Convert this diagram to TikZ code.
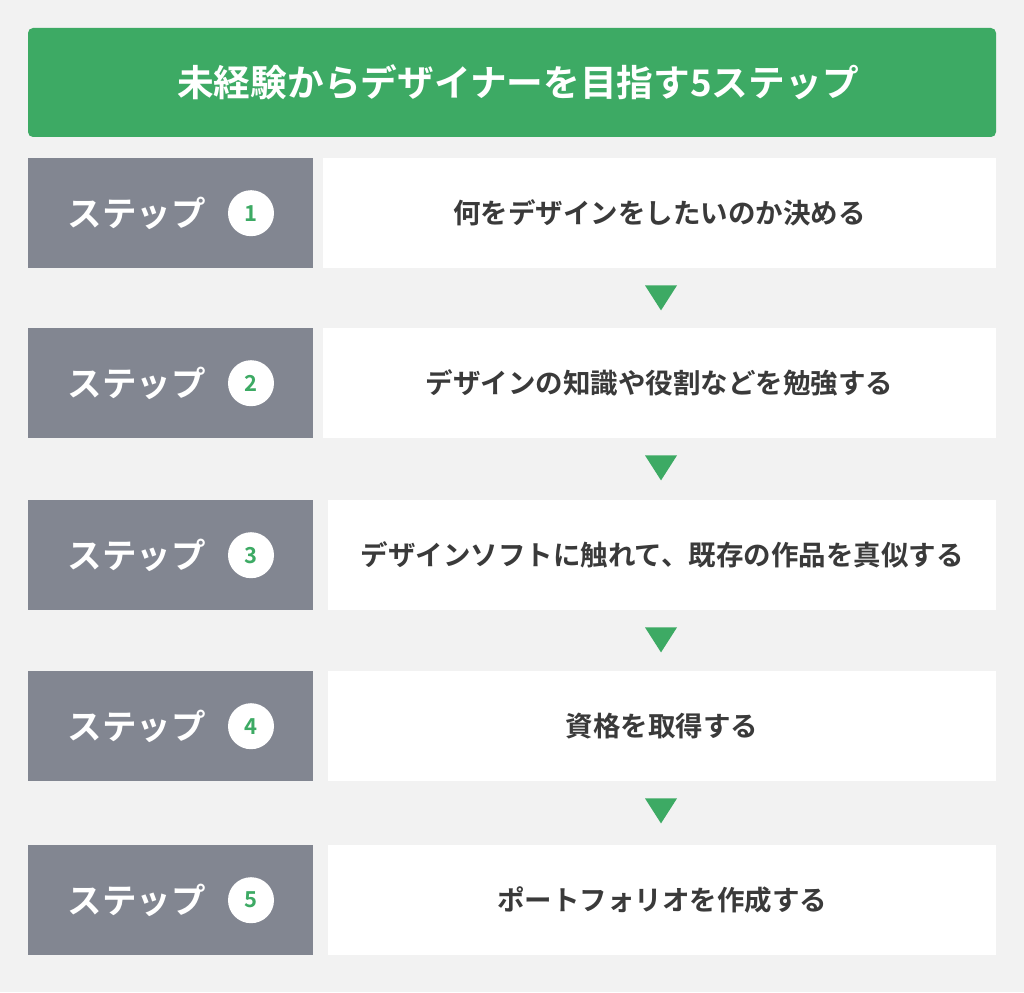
\documentclass[tikz,border=0pt]{standalone}
\usepackage{fontspec}
\setmainfont{Noto Sans CJK JP}[BoldFont={Noto Sans CJK JP Bold}]
\usetikzlibrary{calc}
\definecolor{bgc}{HTML}{F2F2F2}
\definecolor{greenc}{HTML}{3DAA64}
\definecolor{grayc}{HTML}{828691}
\definecolor{textc}{HTML}{3A3A3A}
\begin{document}
\begin{tikzpicture}[x=1pt,y=-1pt,
  titlebox/.style={fill=greenc, rounded corners=5pt, minimum width=968pt, minimum height=109pt, inner sep=0pt},
  titletext/.style={text=white, inner sep=0pt, font=\bfseries\fontsize{36.7}{40}\selectfont},
  graybox/.style={fill=grayc, minimum width=284.7pt, minimum height=110pt, inner sep=0pt, anchor=north west},
  whitebox/.style={fill=white, minimum height=110pt, inner sep=0pt, anchor=north west},
  steplabel/.style={text=white, inner sep=0pt, font=\bfseries\fontsize{34.5}{38}\selectfont},
  numcirc/.style={circle, fill=white, minimum size=46pt, inner sep=0pt, text=greenc, font=\bfseries\fontsize{22}{24}\selectfont},
  content/.style={text=textc, inner sep=0pt, font=\bfseries\fontsize{27.5}{32}\selectfont},
  downtri/.style={fill=greenc}
]
\fill[bgc] (0,0) rectangle (1024,992);
\useasboundingbox (0,0) rectangle (1024,992);

\node[titlebox] (title) at (512,82.5) {};
\node[titletext] (titlet) at ($(title.center)+(6,0)$) {未経験からデザイナーを目指す5ステップ};

\foreach \i/\y/\wx/\txt in {
  1/158/323/何をデザインをしたいのか決める,
  2/328/323/デザインの知識や役割などを勉強する,
  3/500/328/デザインソフトに触れて、既存の作品を真似する,
  4/671/328/資格を取得する,
  5/845/328/ポートフォリオを作成する}{
  \node[graybox] (g\i) at (28,\y) {};
  \pgfmathsetmacro{\ww}{996-\wx}
  \node[whitebox, minimum width=\ww pt] (w\i) at (\wx,\y-0.5) {};
  \node[steplabel] (l\i) at ($(g\i.west)+(108.5,0)$) {ステップ};
  \node[numcirc] (c\i) at ($(g\i.west)+(223,0)$) {\i};
  \node[content] (t\i) at (w\i.center) {\txt};
}

\foreach \i in {1,2,3,4}{
  \fill[downtri] ($(g\i.south west)+(617,17)$) -- ($(g\i.south west)+(649,17)$) -- ($(g\i.south west)+(633,42)$) -- cycle;
}
\end{tikzpicture}
\end{document}
